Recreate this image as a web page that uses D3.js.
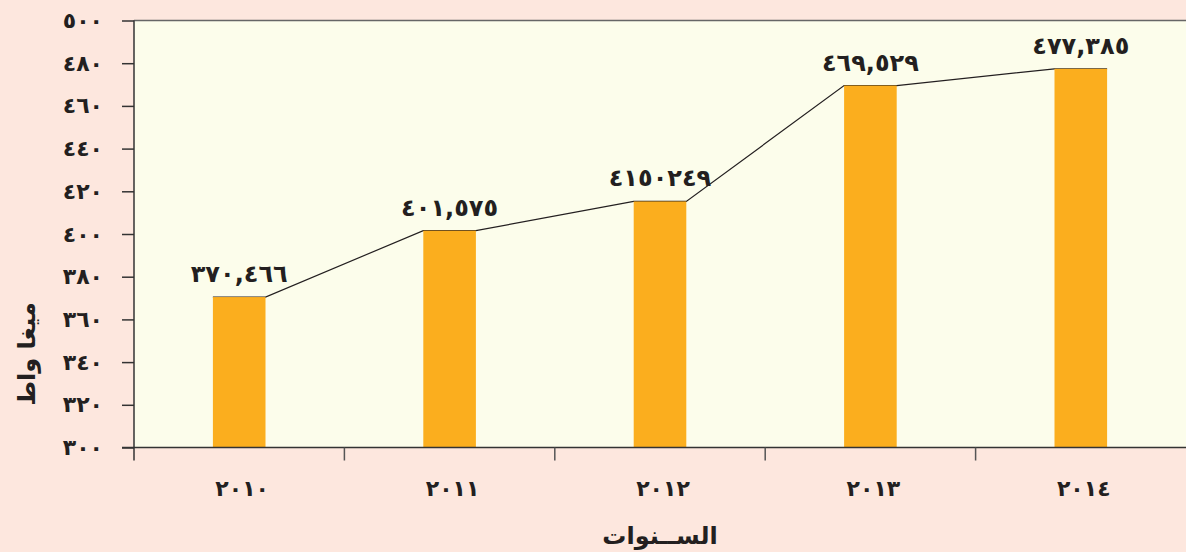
<!DOCTYPE html>
<html lang="ar">
<head>
<meta charset="UTF-8">
<title>ميغا واط</title>
<script src="https://d3js.org/d3.v7.min.js"></script>
<style>
    body { margin: 0; background: #fde7de; }
    svg { display: block; }
    text { font-family: "DejaVu Sans", sans-serif; font-weight: bold; fill: #231f20; }
</style>
</head>
<body>
<svg id="chart" width="1186" height="552"></svg>
<script>
    // data
    const years = ["2010", "2011", "2012", "2013", "2014"];
    const yearLabels = ["٢٠١٠", "٢٠١١", "٢٠١٢", "٢٠١٣", "٢٠١٤"];
    const values = [370.466, 401.575, 415.249, 469.529, 477.385];
    const valueLabels = ["٣٧٠,٤٦٦", "٤٠١,٥٧٥", "٤١٥٠٢٤٩", "٤٦٩,٥٢٩", "٤٧٧,٣٨٥"];
    const yTicks = [300, 320, 340, 360, 380, 400, 420, 440, 460, 480, 500];
    const yTickLabels = ["٣٠٠", "٣٢٠", "٣٤٠", "٣٦٠", "٣٨٠", "٤٠٠", "٤٢٠", "٤٤٠", "٤٦٠", "٤٨٠", "٥٠٠"];

    const svg = d3.select("#chart");
    const plotLeft = 134, plotRight = 1186, plotTop = 20.5, plotBottom = 447.5;

    const x = d3.scaleBand().domain(years).range([plotLeft, plotRight]);
    const y = d3.scaleLinear().domain([300, 500]).range([plotBottom, plotTop]);
    const barW = x.bandwidth() * 0.25;

    // plot background
    svg.append("rect")
        .attr("x", plotLeft).attr("y", plotTop)
        .attr("width", plotRight - plotLeft).attr("height", plotBottom - plotTop)
        .attr("fill", "#fcfdeb");

    // connecting line: right-top of one bar to left-top of next
    const pts = [];
    years.forEach((d, i) => {
        const cx = x(d) + x.bandwidth() / 2;
        pts.push([cx - barW / 2, y(values[i])]);
        pts.push([cx + barW / 2, y(values[i])]);
    });
    svg.append("path")
        .attr("d", d3.line()(pts))
        .attr("fill", "none")
        .attr("stroke", "#231f20")
        .attr("stroke-width", 1.2);

    // bars
    svg.selectAll(".bar")
        .data(years)
        .enter()
        .append("rect")
        .attr("class", "bar")
        .attr("x", d => x(d) + x.bandwidth() / 2 - barW / 2)
        .attr("y", (d, i) => y(values[i]))
        .attr("width", barW)
        .attr("height", (d, i) => plotBottom - y(values[i]))
        .attr("fill", "#fbae1e");

    // value labels
    svg.selectAll(".val")
        .data(years)
        .enter()
        .append("text")
        .attr("class", "val")
        .attr("x", d => x(d) + x.bandwidth() / 2)
        .attr("y", (d, i) => y(values[i]) - 15)
        .attr("text-anchor", "middle")
        .style("font-size", "24px")
        .style("letter-spacing", "1px")
        .text((d, i) => valueLabels[i]);

    // y axis
    const yAxis = svg.append("g")
        .attr("transform", `translate(${plotLeft},0)`)
        .call(d3.axisLeft(y)
            .tickValues(yTicks)
            .tickSize(12)
            .tickPadding(19)
            .tickFormat((d, i) => yTickLabels[i]));
    yAxis.select(".domain").remove();
    yAxis.selectAll(".tick line").attr("stroke", "#333").attr("stroke-width", 1.5);
    yAxis.selectAll(".tick text")
        .style("font-size", "22px")
        .style("letter-spacing", "7px")
        .style("font-family", "DejaVu Sans")
        .style("font-weight", "bold")
        .attr("fill", "#231f20");

    // top border
    svg.append("line")
        .attr("x1", plotLeft).attr("x2", plotRight)
        .attr("y1", plotTop).attr("y2", plotTop)
        .attr("stroke", "#666").attr("stroke-width", 1.5);

    // left axis line (runs down past the baseline)
    svg.append("line")
        .attr("x1", plotLeft).attr("x2", plotLeft)
        .attr("y1", plotTop).attr("y2", plotBottom + 13)
        .attr("stroke", "#333").attr("stroke-width", 1.5);

    // x axis
    const xAxis = svg.append("g")
        .attr("transform", `translate(0,${plotBottom})`)
        .call(d3.axisBottom(x)
            .tickSize(0)
            .tickPadding(33)
            .tickFormat((d, i) => yearLabels[i]));
    xAxis.select(".domain").remove();
    xAxis.selectAll(".tick text")
        .style("font-size", "22px")
        .style("letter-spacing", "6px")
        .attr("dx", "3px")
        .style("font-family", "DejaVu Sans")
        .style("font-weight", "bold")
        .attr("fill", "#231f20");

    svg.append("line")
        .attr("x1", plotLeft - 12).attr("x2", plotRight)
        .attr("y1", plotBottom).attr("y2", plotBottom)
        .attr("stroke", "#333").attr("stroke-width", 1.5);

    // separators between years
    svg.selectAll(".sep")
        .data(years.slice(1))
        .enter()
        .append("line")
        .attr("class", "sep")
        .attr("x1", d => x(d)).attr("x2", d => x(d))
        .attr("y1", plotBottom).attr("y2", plotBottom + 13)
        .attr("stroke", "#555").attr("stroke-width", 1.5);

    // axis titles
    svg.append("text")
        .attr("x", (plotLeft + plotRight) / 2)
        .attr("y", 544)
        .attr("text-anchor", "middle")
        .style("font-size", "24px")
        .text("الســنوات");

    svg.append("text")
        .attr("transform", "translate(35,354) rotate(-90)")
        .attr("text-anchor", "middle")
        .style("font-size", "24px")
        .text("ميغا واط");
</script>
</body>
</html>
